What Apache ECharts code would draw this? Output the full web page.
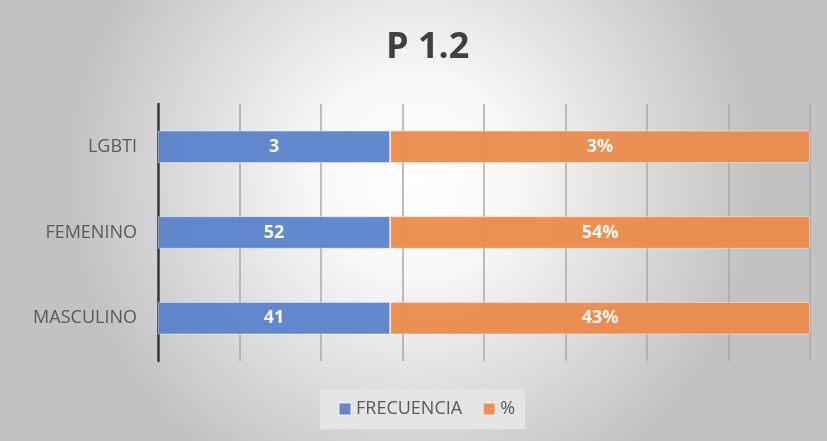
<!DOCTYPE html>
<html>
<head>
<meta charset="utf-8">
<script src="https://cdn.jsdelivr.net/npm/echarts@6/dist/echarts.min.js"></script>
<style>html,body{margin:0;padding:0;}#c{width:827px;height:441px;}</style>
</head>
<body>
<div id="c"></div>
<script>
// Data
const categories = ['MASCULINO', 'FEMENINO', 'LGBTI'];
const frecuencia = [41, 52, 3];          // label values, blue segment
const porcentaje = ['43%', '54%', '3%']; // label values, orange segment
const frecuenciaShare = [35.6, 35.6, 35.6]; // plotted share of 100% bar
const porcentajeShare = [64.4, 64.4, 64.4];
const seriesNames = ['FRECUENCIA', '%'];

const chart = echarts.init(document.getElementById('c'), null, {renderer: 'canvas'});
const labelFont = '"Open Sans", "Noto Sans", sans-serif';
chart.setOption({
  backgroundColor: {
    type: 'radial', x: 0.5, y: 0.4, r: 0.78,
    colorStops: [{offset: 0, color: '#ffffff'}, {offset: 0.3, color: '#f7f7f7'}, {offset: 1, color: '#c2c2c2'}]
  },
  title: {
    text: 'P 1.2', left: 381, top: 25,
    textStyle: {fontFamily: labelFont, fontWeight: 'bold', fontSize: 36, color: '#404040'}
  },
  legend: {
    bottom: 12, left: 320,
    data: seriesNames,
    itemWidth: 12, itemHeight: 12, itemGap: 20,
    backgroundColor: '#e4e4e4',
    padding: [11, 10, 11, 18],
    icon: 'rect',
    textStyle: {fontFamily: labelFont, fontSize: 18, color: '#595959'}
  },
  grid: {left: 158, right: 17, top: 104, bottom: 80, containLabel: false},
  xAxis: {
    type: 'value', min: 0, max: 100, interval: 12.5,
    axisLabel: {show: false}, axisTick: {show: false}, axisLine: {show: false},
    splitLine: {show: true, lineStyle: {color: '#a8a8a8', width: 1.5}}
  },
  yAxis: {
    type: 'category', data: categories,
    axisTick: {show: false},
    axisLine: {show: true, lineStyle: {color: '#3a3a3a', width: 2.5}},
    axisLabel: {fontFamily: labelFont, fontSize: 18, color: '#595959', margin: 21}
  },
  series: [
    {
      name: seriesNames[0], type: 'bar', stack: 'total', barWidth: '38%',
      data: frecuenciaShare,
      itemStyle: {color: '#5a82cb', opacity: 0.95, borderColor: 'rgba(255,255,255,0.45)', borderWidth: 1},
      label: {show: true, position: 'inside', fontFamily: labelFont, fontWeight: 'bold', fontSize: 18, color: '#ffffff',
        formatter: p => String(frecuencia[p.dataIndex])}
    },
    {
      name: seriesNames[1], type: 'bar', stack: 'total', barWidth: '38%',
      data: porcentajeShare,
      itemStyle: {color: '#ec8a4b', opacity: 0.95, borderColor: 'rgba(255,255,255,0.45)', borderWidth: 1},
      label: {show: true, position: 'inside', fontFamily: labelFont, fontWeight: 'bold', fontSize: 18, color: '#ffffff',
        formatter: p => porcentaje[p.dataIndex]}
    }
  ]
});
</script>
</body>
</html>
